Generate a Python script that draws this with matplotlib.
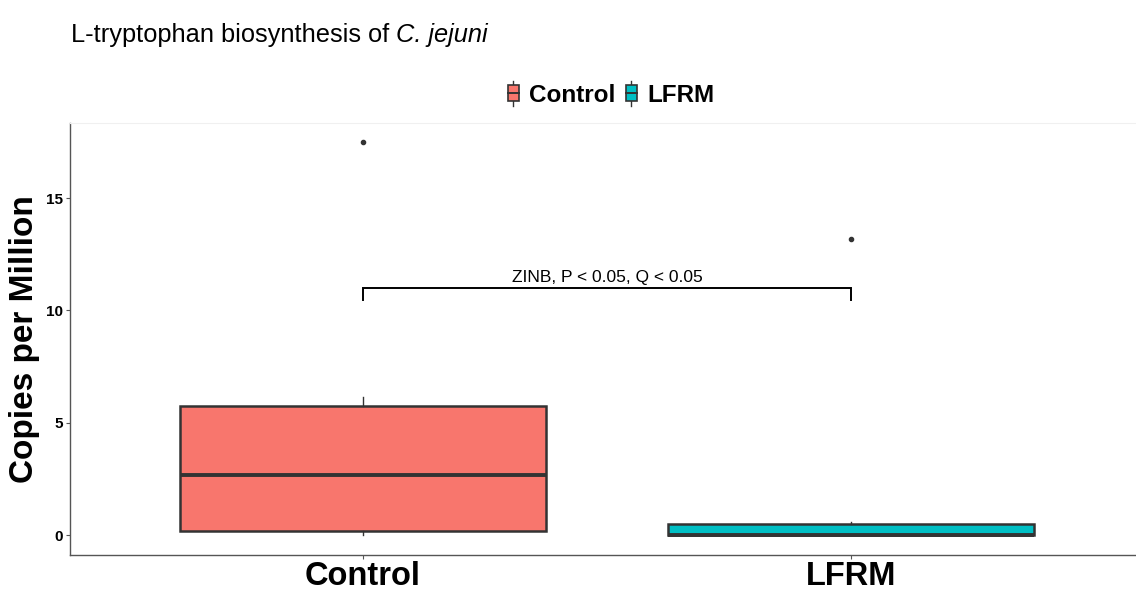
import matplotlib
matplotlib.use("Agg")
import matplotlib.pyplot as plt
from matplotlib.legend_handler import HandlerBase
from matplotlib.patches import Rectangle, Patch
from matplotlib.lines import Line2D

plt.rcParams['font.family'] = ['Liberation Sans', 'DejaVu Sans']

# values (copies per million)
groups = ["Control", "LFRM"]
colors = ["#F8766D", "#00BFC4"]
q1 = [0.18, 0.0]
medians = [2.66, 0.0]
q3 = [5.76, 0.49]
whisk_lo = [0.0, 0.0]
whisk_hi = [6.16, 0.6]
outliers = [[17.5], [13.2]]

bracket_y = 11.0
bracket_drop = 0.55
test_label = "ZINB, P < 0.05, Q < 0.05"
yticks = [0, 5, 10, 15]

edge = "#333333"

stats = []
for i, g in enumerate(groups):
    stats.append(dict(label=g, q1=q1[i], med=medians[i], q3=q3[i],
                      whislo=whisk_lo[i], whishi=whisk_hi[i], fliers=outliers[i]))

fig = plt.figure(figsize=(11.36, 5.90), dpi=100)
ax = fig.add_axes([70 / 1136, 35 / 590, (1144 - 70) / 1136, 432 / 590])

positions = list(range(1, len(groups) + 1))
bp = ax.bxp(stats, positions=positions, widths=0.75, patch_artist=True, showcaps=False,
            boxprops=dict(edgecolor=edge, linewidth=1.8),
            medianprops=dict(color=edge, linewidth=2.8),
            whiskerprops=dict(color=edge, linewidth=1.0),
            flierprops=dict(marker='o', markersize=3, markerfacecolor=edge,
                            markeredgecolor=edge, linestyle='none'))
for box, c in zip(bp['boxes'], colors):
    box.set_facecolor(c)
    box.set_zorder(2)
for med in bp['medians']:
    med.set_zorder(3)

# significance bracket
x0, x1 = positions[0], positions[1]
ax.plot([x0, x0, x1, x1], [bracket_y - bracket_drop, bracket_y, bracket_y, bracket_y - bracket_drop],
        color='black', lw=1.4, solid_joinstyle='miter')
ax.text((x0 + x1) / 2, bracket_y + 0.12, test_label, ha='center', va='bottom', fontsize=12.5)

ax.set_xlim(0.4, 2.6)
ax.set_ylim(-0.89, 18.35)
ax.set_yticks(yticks)
ax.set_xticks(positions)
ax.set_xticklabels(groups, fontsize=23.5, fontweight='bold')
ax.tick_params(axis='y', labelsize=11, length=3, color='#555555', pad=2)
for lbl in ax.get_yticklabels():
    lbl.set_fontweight('bold')
ax.tick_params(axis='x', length=3, color='#555555', pad=1)
ax.set_ylabel("Copies per Million", fontsize=24, fontweight='bold', labelpad=4)

ax.spines['right'].set_visible(False)
ax.spines['top'].set_color('#f0f0f0')
ax.spines['left'].set_color('#555555')
ax.spines['bottom'].set_color('#555555')
ax.spines['left'].set_linewidth(1.0)
ax.spines['bottom'].set_linewidth(1.0)


class BoxHandler(HandlerBase):
    def create_artists(self, legend, orig_handle, xdescent, ydescent, width, height, fontsize, trans):
        cx = width / 2 - xdescent
        bw = width * 0.75
        bh = height * 0.9
        by = -ydescent + (height - bh) / 2
        whisk = Line2D([cx, cx], [by - 3, by + bh + 3], color=edge, lw=1.0, transform=trans)
        rect = Rectangle((cx - bw / 2, by), bw, bh, facecolor=orig_handle.get_facecolor(),
                         edgecolor=edge, lw=1.2, transform=trans)
        mid = Line2D([cx - bw / 2, cx + bw / 2], [by + bh / 2, by + bh / 2], color=edge, lw=1.4,
                     transform=trans)
        return [whisk, rect, mid]


handles = [Patch(facecolor=c) for c in colors]
fig.legend(handles, groups, loc='center', bbox_to_anchor=(610 / 1136, 1 - 95 / 590), ncol=2,
           frameon=False, handler_map={Patch: BoxHandler()}, handlelength=0.6, handleheight=0.8,
           handletextpad=0.35, columnspacing=0.35, prop=dict(size=17.5, weight='bold'))

# title: regular part followed by italic species name
t1 = fig.text(71 / 1136, 1 - 35 / 590, "L-tryptophan biosynthesis of ",
              ha='left', va='center', fontsize=18.3)
fig.canvas.draw()
bb = t1.get_window_extent()
fig.text(bb.x1 / fig.bbox.width, 1 - 35 / 590, "C. jejuni", ha='left', va='center',
         fontsize=18.3, fontstyle='italic')

fig.savefig("out.png", dpi=100)
